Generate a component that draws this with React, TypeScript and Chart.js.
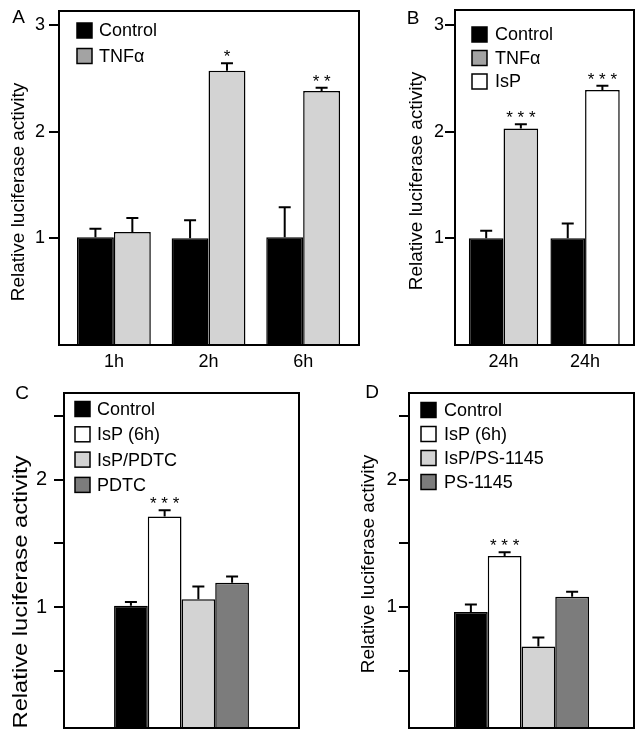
import React, { useEffect, useRef } from 'react';
import { Chart, registerables } from 'chart.js';

Chart.register(...registerables);

const FONT = '"Liberation Sans", Arial, Helvetica, sans-serif';
const Y_TITLE = 'Relative luciferase activity';

// ---------- Panel A ----------
const categoriesA = ['1h', '2h', '6h'];
const controlA = [1.01, 1.0, 1.01];
const controlErrA = [0.08, 0.17, 0.28];
const tnfA = [1.06, 2.57, 2.38];
const tnfErrA = [0.13, 0.07, 0.03];
const tnfSigA = ['', '*', '* *'];
const yTicksA = [1, 2, 3];

// ---------- Panel B ----------
const categoriesB = ['24h', '24h'];
const controlB = [1.0, 1.0];
const controlErrB = [0.07, 0.14];
const tnfB = [2.03, null];
const tnfErrB = [0.04, null];
const tnfSigB = ['* * *', ''];
const ispB = [null, 2.39];
const ispErrB = [null, 0.04];
const ispSigB = ['', '* * *'];
const yTicksB = [1, 2, 3];

// ---------- Panel C ----------
const groupsC = ['Control', 'IsP (6h)', 'IsP/PDTC', 'PDTC'];
const valuesC = [1.01, 1.71, 1.06, 1.19];
const errC = [0.03, 0.05, 0.1, 0.05];
const sigC = ['', '* * *', '', ''];

// ---------- Panel D ----------
const groupsD = ['Control', 'IsP (6h)', 'IsP/PS-1145', 'PS-1145'];
const valuesD = [0.96, 1.4, 0.69, 1.08];
const errD = [0.06, 0.03, 0.07, 0.04];
const sigD = ['', '* * *', '', ''];

const yTicksCD = [0.5, 1, 1.5, 2, 2.5];
const yLabelledCD = [1, 2];

// ---------- styles ----------
const BLACK = '#000000';
const WHITE = '#ffffff';
const LIGHT = '#d3d3d3';
const MID = '#a3a3a3';
const DARK = '#7c7c7c';
const barColorsCD = [BLACK, WHITE, LIGHT, DARK];

const points = (vals: (number | null)[]) => vals.map((v, i) => ({ x: i, y: v }));

const decorPlugin = {
  id: 'decor',
  afterDatasetsDraw(chart: any, _args: any, opts: any) {
    const { ctx, chartArea: ca } = chart;
    const yScale = chart.scales.y;
    ctx.save();
    // error bars and significance marks
    chart.data.datasets.forEach((ds: any, di: number) => {
      const meta = chart.getDatasetMeta(di);
      meta.data.forEach((bar: any, i: number) => {
        const pt = ds.data[i];
        if (!pt || pt.y == null) return;
        let top = bar.y;
        const e = ds.errors ? ds.errors[i] : null;
        if (e) {
          const ye = yScale.getPixelForValue(pt.y + e);
          ctx.strokeStyle = BLACK;
          ctx.lineWidth = 2;
          ctx.beginPath();
          ctx.moveTo(bar.x, bar.y);
          ctx.lineTo(bar.x, ye);
          ctx.moveTo(bar.x - 6, ye);
          ctx.lineTo(bar.x + 6, ye);
          ctx.stroke();
          top = ye;
        }
        const s = ds.sig ? ds.sig[i] : '';
        if (s) {
          ctx.fillStyle = BLACK;
          ctx.font = `17px ${FONT}`;
          ctx.textAlign = 'center';
          ctx.textBaseline = 'alphabetic';
          ctx.fillText(s, bar.x, top - 1);
        }
      });
    });
    // frame
    ctx.strokeStyle = BLACK;
    ctx.lineWidth = 2;
    ctx.strokeRect(ca.left, ca.top, ca.right - ca.left, ca.bottom - ca.top);
    // legend
    ctx.font = `18px ${FONT}`;
    ctx.textAlign = 'left';
    ctx.textBaseline = 'middle';
    chart.data.datasets.forEach((ds: any, i: number) => {
      const sx = ca.left + opts.legendX;
      const sy = ca.top + opts.legendY + i * opts.legendStep;
      ctx.fillStyle = ds.legendColor;
      ctx.fillRect(sx, sy, 15, 15);
      ctx.lineWidth = 1.5;
      ctx.strokeStyle = BLACK;
      ctx.strokeRect(sx, sy, 15, 15);
      ctx.fillStyle = BLACK;
      ctx.fillText(ds.label, sx + opts.textDx, sy + 8.5);
    });
    // panel letter
    ctx.font = `19px ${FONT}`;
    ctx.textAlign = 'center';
    ctx.fillText(opts.letter, opts.letterX, opts.letterY);
    // axis title
    ctx.save();
    ctx.translate(opts.titleX, opts.titleY);
    ctx.rotate(-Math.PI / 2);
    ctx.scale(opts.titleStretch || 1, 1);
    ctx.font = `${opts.titleSize}px ${FONT}`;
    ctx.textAlign = 'center';
    ctx.textBaseline = 'middle';
    ctx.fillText(Y_TITLE, 0, 0);
    ctx.restore();
    ctx.restore();
  },
};

function barStyle(catPct: number) {
  return {
    borderColor: BLACK,
    borderWidth: 1.5,
    borderSkipped: 'bottom',
    barPercentage: 1,
    categoryPercentage: catPct,
    skipNull: true,
  };
}

function yAxis(min: number, max: number, ticks: number[], labelled: number[], width: number, tickPad: number, fontSize: number) {
  return {
    type: 'linear',
    position: 'left',
    min,
    max,
    afterBuildTicks: (s: any) => {
      s.ticks = ticks.map((v) => ({ value: v }));
    },
    afterFit: (s: any) => {
      s.width = width;
      s.paddingTop = 0;
      s.paddingBottom = 0;
    },
    ticks: {
      autoSkip: false,
      padding: tickPad,
      color: BLACK,
      font: { family: FONT, size: fontSize },
      callback: (v: number) => (labelled.includes(v) ? String(v) : ''),
    },
    grid: {
      drawOnChartArea: false,
      drawTicks: true,
      tickLength: 10,
      tickWidth: 2,
      tickColor: BLACK,
      color: BLACK,
      lineWidth: 2,
    },
    border: { display: false },
    title: { display: false },
  };
}

function xAxis(min: number, max: number, labels: string[], height: number, pad: number, show: boolean) {
  return {
    type: 'linear',
    position: 'bottom',
    offset: false,
    min,
    max,
    afterBuildTicks: (s: any) => {
      s.ticks = labels.map((_, i) => ({ value: i }));
    },
    afterFit: (s: any) => {
      s.height = height;
      s.paddingLeft = 0;
      s.paddingRight = 0;
    },
    ticks: {
      display: show,
      autoSkip: false,
      maxRotation: 0,
      minRotation: 0,
      padding: pad,
      color: BLACK,
      font: { family: FONT, size: 18 },
      callback: (v: number) => (labels[v] !== undefined ? labels[v] : ''),
    },
    grid: { display: false, drawTicks: false, drawOnChartArea: false, offset: false },
    border: { display: false },
  };
}

function options(padding: any, x: any, y: any, decor: any) {
  return {
    responsive: false,
    animation: false,
    events: [],
    layout: { padding, autoPadding: false },
    scales: { x, y },
    plugins: { legend: { display: false }, tooltip: { enabled: false }, decor },
  };
}

const buildA = () => ({
  type: 'bar',
  data: {
    datasets: [
      { label: 'Control', data: points(controlA), errors: controlErrA, backgroundColor: BLACK, legendColor: BLACK, ...barStyle(0.78) },
      { label: 'TNFα', data: points(tnfA), errors: tnfErrA, sig: tnfSigA, backgroundColor: LIGHT, legendColor: MID, ...barStyle(0.78) },
    ],
  },
  options: options(
    { left: 0, top: 11, right: 21, bottom: 0 },
    xAxis(-0.58, 2.59, categoriesA, 35, 6, true),
    yAxis(0, 3.13, yTicksA, yTicksA, 59, 4, 18),
    { letter: 'A', letterX: 18.5, letterY: 18, legendX: 18, legendY: 12, legendStep: 25.5, textDx: 22, titleX: 19, titleY: 192, titleSize: 19 }
  ),
  plugins: [decorPlugin],
});

const buildB = () => ({
  type: 'bar',
  data: {
    datasets: [
      { label: 'Control', data: points(controlB), errors: controlErrB, backgroundColor: BLACK, legendColor: BLACK, ...barStyle(0.85) },
      { label: 'TNFα', data: points(tnfB), errors: tnfErrB, sig: tnfSigB, backgroundColor: LIGHT, legendColor: MID, ...barStyle(0.85) },
      { label: 'IsP', data: points(ispB), errors: ispErrB, sig: ispSigB, backgroundColor: WHITE, legendColor: WHITE, ...barStyle(0.85) },
    ],
  },
  options: options(
    { left: 0, top: 10, right: 10, bottom: 0 },
    xAxis(-0.595, 1.6, categoriesB, 35, 6, true),
    yAxis(0, 3.14, yTicksB, yTicksB, 57, 1, 18),
    { letter: 'B', letterX: 15, letterY: 19, legendX: 17, legendY: 17, legendStep: 23.5, textDx: 23, titleX: 19, titleY: 181, titleSize: 19 }
  ),
  plugins: [decorPlugin],
});

const buildSingle = (groups: string[], values: number[], errs: number[], sigs: string[], catPct: number, yWidth: number, padRight: number, tickPad: number, tickFont: number, decor: any) => ({
  type: 'bar',
  data: {
    datasets: groups.map((g, i) => ({
      label: g,
      data: [{ x: 0, y: values[i] }],
      errors: [errs[i]],
      sig: [sigs[i]],
      backgroundColor: barColorsCD[i],
      legendColor: barColorsCD[i],
      ...barStyle(catPct),
    })),
  },
  options: options(
    { left: 0, top: 13, right: padRight, bottom: 0 },
    xAxis(-0.5, 0.5, [''], 11, 0, false),
    yAxis(0.05, 2.68, yTicksCD, yLabelledCD, yWidth, tickPad, tickFont),
    decor
  ),
  plugins: [decorPlugin],
});

const buildC = () =>
  buildSingle(groupsC, valuesC, errC, sigC, 0.574, 64, 23, 7, 20, {
    letter: 'C', letterX: 22, letterY: 14, legendX: 11, legendY: 8.5, legendStep: 25.3, textDx: 22, titleX: 21, titleY: 212, titleSize: 21, titleStretch: 1.13,
  });

const buildD = () =>
  buildSingle(groupsD, valuesD, errD, sigD, 0.6, 59, 10, 2, 19, {
    letter: 'D', letterX: 22, letterY: 13, legendX: 12, legendY: 9.5, legendStep: 24, textDx: 23, titleX: 19, titleY: 184, titleSize: 19,
  });

function Panel({ left, top, width, height, build }: { left: number; top: number; width: number; height: number; build: () => any }) {
  const ref = useRef<HTMLCanvasElement>(null);
  useEffect(() => {
    const chart = new Chart(ref.current as HTMLCanvasElement, build());
    return () => chart.destroy();
  }, []);
  return (
    <canvas
      ref={ref}
      width={width}
      height={height}
      style={{ position: 'absolute', left, top, width, height }}
    />
  );
}

export default function App() {
  return (
    <div style={{ position: 'absolute', left: 0, top: 0, width: 644, height: 739, background: '#ffffff', overflow: 'hidden' }}>
      <Panel left={0} top={0} width={380} height={380} build={buildA} />
      <Panel left={398} top={0} width={246} height={380} build={buildB} />
      <Panel left={0} top={380} width={322} height={359} build={buildC} />
      <Panel left={350} top={380} width={294} height={359} build={buildD} />
    </div>
  );
}
